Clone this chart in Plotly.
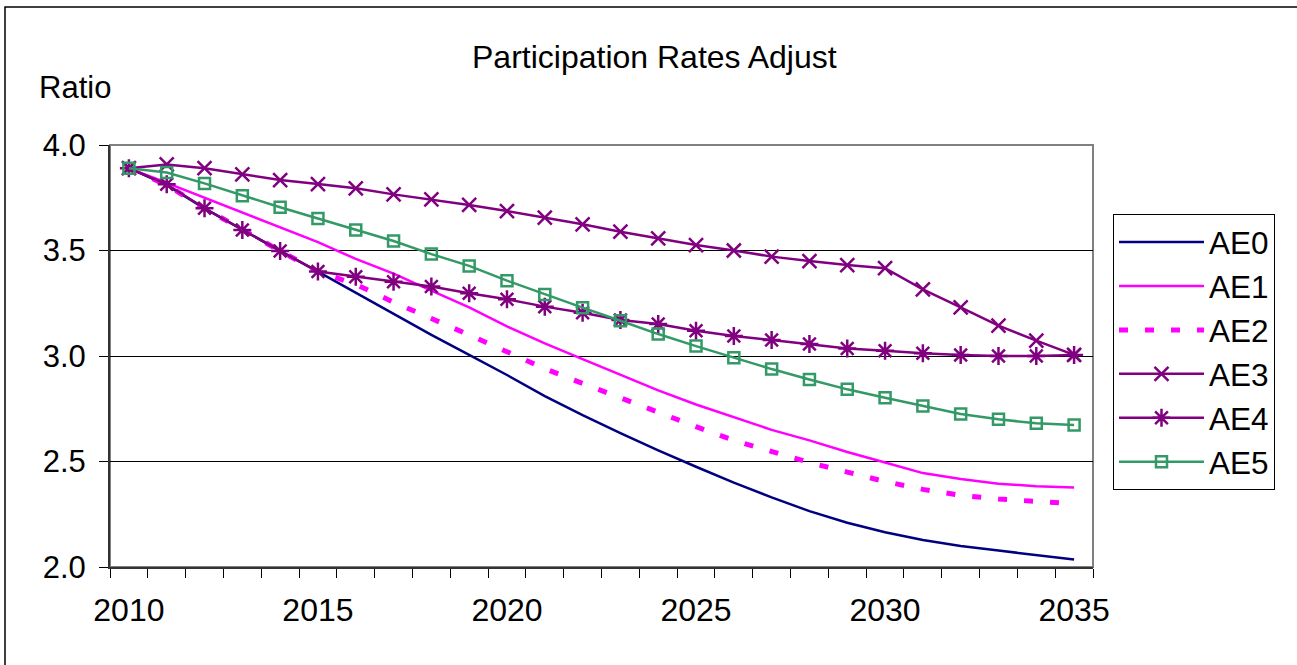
import plotly.graph_objects as go

years = list(range(2010, 2036))
label_years = [2010, 2015, 2020, 2025, 2030, 2035]
y_ticks = [2.0, 2.5, 3.0, 3.5, 4.0]

ae0 = [3.89, 3.81, 3.70, 3.597, 3.498, 3.40, 3.30, 3.20, 3.10, 3.005, 2.91, 2.81,
       2.72, 2.635, 2.553, 2.475, 2.40, 2.33, 2.265, 2.21, 2.165, 2.128, 2.10,
       2.078, 2.057, 2.035]
ae1 = [3.89, 3.82, 3.75, 3.68, 3.61, 3.54, 3.46, 3.39, 3.31, 3.23, 3.14, 3.06,
       2.985, 2.91, 2.837, 2.77, 2.71, 2.65, 2.60, 2.545, 2.495, 2.445, 2.417,
       2.395, 2.383, 2.377]
ae2 = [3.89, 3.81, 3.70, 3.597, 3.498, 3.40, 3.34, 3.255, 3.18, 3.10, 3.02, 2.94,
       2.87, 2.80, 2.73, 2.665, 2.60, 2.545, 2.495, 2.45, 2.405, 2.368, 2.34,
       2.322, 2.31, 2.30]
ae3 = [3.89, 3.908, 3.89, 3.861, 3.834, 3.815, 3.795, 3.766, 3.742, 3.716, 3.687,
       3.656, 3.624, 3.589, 3.558, 3.526, 3.50, 3.471, 3.45, 3.431, 3.416, 3.316,
       3.231, 3.144, 3.073, 3.005]
ae4 = [3.89, 3.814, 3.70, 3.597, 3.498, 3.40, 3.376, 3.352, 3.329, 3.297, 3.269,
       3.234, 3.205, 3.171, 3.152, 3.12, 3.095, 3.076, 3.057, 3.036, 3.025, 3.013,
       3.005, 3.00, 3.00, 3.005]
ae5 = [3.89, 3.87, 3.818, 3.76, 3.705, 3.652, 3.597, 3.545, 3.483, 3.427, 3.357,
       3.292, 3.229, 3.167, 3.104, 3.047, 2.992, 2.938, 2.889, 2.842, 2.802, 2.763,
       2.725, 2.70, 2.681, 2.673]

FONT = "Liberation Sans, Arial, sans-serif"
NAVY = "#000080"
MAGENTA = "#FF00FF"
PURPLE = "#800080"
GREEN = "#339966"

fig = go.Figure()
fig.add_trace(go.Scatter(x=years, y=ae0, name="AE0", mode="lines",
                         line=dict(color=NAVY, width=2.5), legendgroup="g0"))
fig.add_trace(go.Scatter(x=years, y=ae1, name="AE1", mode="lines",
                         line=dict(color=MAGENTA, width=2.5), legendgroup="g1"))
fig.add_trace(go.Scatter(x=years, y=ae2, name="AE2", mode="lines",
                         line=dict(color=MAGENTA, width=5, dash="9px,17px"),
                         legendgroup="g2"))
fig.add_trace(go.Scatter(x=years, y=ae3, name="AE3", mode="lines+markers",
                         line=dict(color=PURPLE, width=2.5),
                         marker=dict(symbol="x-thin-open", size=14,
                                     line=dict(color=PURPLE, width=2.5)),
                         legendgroup="g3"))
fig.add_trace(go.Scatter(x=years, y=ae4, name="AE4", mode="lines+markers",
                         line=dict(color=PURPLE, width=2.5),
                         marker=dict(symbol="asterisk-open", size=15,
                                     line=dict(color=PURPLE, width=2.5)),
                         legendgroup="g4"))
fig.add_trace(go.Scatter(x=years, y=ae5, name="AE5", mode="lines+markers",
                         line=dict(color=GREEN, width=2.5),
                         marker=dict(symbol="square-open", size=11, color=GREEN,
                                     line=dict(color=GREEN, width=2.5)),
                         legendgroup="g5"))

minor_vals = [y - 0.5 for y in years] + [years[-1] + 0.5]

W, H = 1297, 665
L, R, T, B = 110, 1093, 145, 567

def px(xp):
    return (xp - L) / (R - L)

def py(yp):
    return (B - yp) / (B - T)

fig.update_layout(
    width=W, height=H,
    margin=dict(l=L, r=W - R, t=T, b=H - B),
    paper_bgcolor="white", plot_bgcolor="white",
    font=dict(family=FONT, size=31, color="black"),
    showlegend=True,
    legend=dict(x=px(1113), y=py(214), xanchor="left", yanchor="top",
                bgcolor="white", bordercolor="black", borderwidth=1,
                font=dict(family=FONT, size=31.5, color="black"),
                itemwidth=85, tracegroupgap=4.5, traceorder="normal"),
    xaxis=dict(range=[years[0] - 0.5, years[-1] + 0.5], tickmode="array",
               tickvals=label_years, ticktext=[str(v) for v in label_years],
               ticks="", showgrid=False, zeroline=False,
               showline=True, linecolor="#333333", linewidth=2,
               ticklabelstandoff=14,
               tickfont=dict(family=FONT, size=32, color="black"),
               minor=dict(tickmode="array", tickvals=minor_vals, ticks="outside",
                          ticklen=9, tickwidth=1, tickcolor="black", showgrid=False)),
    yaxis=dict(range=[2.0, 4.0], tickmode="array", tickvals=y_ticks,
               tickformat=".1f", ticks="outside", ticklen=9, tickwidth=1,
               tickcolor="black", showgrid=True, gridcolor="black", gridwidth=1,
               zeroline=False, showline=True, linecolor="#333333", linewidth=2,
               ticklabelstandoff=7,
               tickfont=dict(family=FONT, size=31, color="black")),
    shapes=[
        dict(type="rect", xref="paper", yref="paper", x0=0, x1=1, y0=0, y1=1,
             line=dict(color="#808080", width=2), layer="below"),
        dict(type="rect", xref="paper", yref="paper", x0=px(5), x1=px(1310),
             y0=py(680), y1=py(7), line=dict(color="black", width=1.5)),
    ],
    annotations=[
        dict(text="Participation Rates Adjust", xref="paper", yref="paper",
             x=px(654), y=py(57), xanchor="center", yanchor="middle",
             showarrow=False, font=dict(family=FONT, size=32, color="black")),
        dict(text="Ratio", xref="paper", yref="paper",
             x=px(37), y=py(87), xanchor="left", yanchor="middle",
             showarrow=False, font=dict(family=FONT, size=31, color="black")),
    ],
)

fig.write_html("out.html", config={"displayModeBar": False},
               post_script="document.body.style.margin='0';document.body.style.overflow='hidden';")
